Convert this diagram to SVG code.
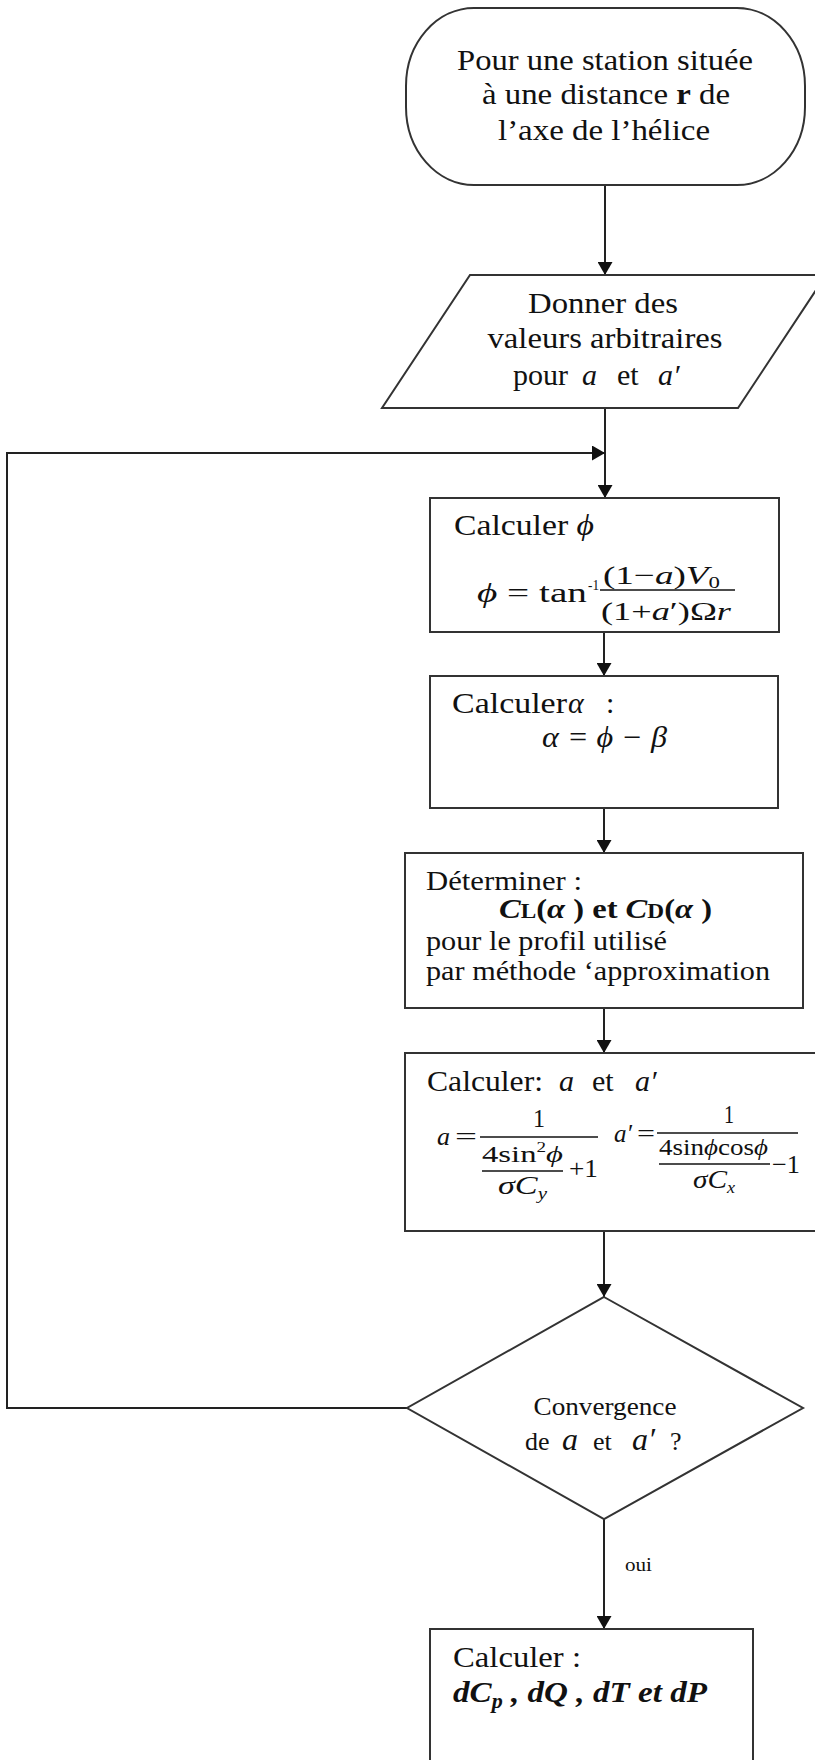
<svg xmlns="http://www.w3.org/2000/svg" width="815" height="1760" viewBox="0 0 815 1760">
<style>
.s{fill:#fff;stroke:#333;stroke-width:2}
.t{font-family:"Liberation Serif","Times New Roman",serif;fill:#111}
.f30{font-size:30px}
.f28{font-size:28px}
.f26{font-size:26px}
.f24{font-size:24px}
.f20{font-size:20px}
.f18{font-size:18px}
.f16{font-size:16px}
.f14{font-size:14px}
.i{font-style:italic}
.b{font-weight:bold}
.m{text-anchor:middle}
.c{fill:none;stroke:#222;stroke-width:2}
.bar{stroke:#111;stroke-width:1.5}
</style>
<defs>
<marker id="ah" markerUnits="userSpaceOnUse" markerWidth="15" markerHeight="15" refX="13" refY="7.5" orient="auto">
<path d="M0,0 L13,7.5 L0,15 z" fill="#111"/>
</marker>
</defs>

<g id="connectors">
<line class="c" x1="605" y1="185" x2="605" y2="275" marker-end="url(#ah)"/>
<line class="c" x1="605" y1="408" x2="605" y2="498" marker-end="url(#ah)"/>
<polyline class="c" points="407,1408 7,1408 7,453 605,453" marker-end="url(#ah)"/>
<line class="c" x1="604" y1="632" x2="604" y2="676" marker-end="url(#ah)"/>
<line class="c" x1="604" y1="808" x2="604" y2="853" marker-end="url(#ah)"/>
<line class="c" x1="604" y1="1008" x2="604" y2="1053" marker-end="url(#ah)"/>
<line class="c" x1="604" y1="1231" x2="604" y2="1297" marker-end="url(#ah)"/>
<line class="c" x1="604" y1="1519" x2="604" y2="1629" marker-end="url(#ah)"/>
<text class="t f18" x="625" y="1571" textLength="27" lengthAdjust="spacingAndGlyphs">oui</text>
</g>

<g id="start">
<rect class="s" x="406" y="8" width="399" height="177" rx="68" ry="78"/>
<text class="t f30 m" x="605" y="70" textLength="296" lengthAdjust="spacingAndGlyphs">Pour une station située</text>
<text class="t f30 m" x="606" y="104" textLength="248" lengthAdjust="spacingAndGlyphs">à une distance <tspan class="b">r</tspan> de</text>
<text class="t f30 m" x="604" y="140" textLength="212" lengthAdjust="spacingAndGlyphs">l’axe de l’hélice</text>
</g>

<g id="input">
<polygon class="s" points="470,275 826,275 738,408 382,408"/>
<text class="t f30 m" x="603" y="313" textLength="150" lengthAdjust="spacingAndGlyphs">Donner des</text>
<text class="t f30 m" x="605" y="348" textLength="235" lengthAdjust="spacingAndGlyphs">valeurs arbitraires</text>
<text class="t f30" y="385"><tspan x="513">pour</tspan><tspan x="582" class="i">a</tspan><tspan x="617">et</tspan><tspan x="658" class="i">a′</tspan></text>
</g>

<g id="calc-phi">
<rect class="s" x="430" y="498" width="349" height="134"/>
<text class="t f30" x="454" y="535" textLength="140" lengthAdjust="spacingAndGlyphs">Calculer <tspan class="i">ϕ</tspan></text>
<text class="t f28" x="477" y="602" textLength="110" lengthAdjust="spacingAndGlyphs"><tspan class="i">ϕ</tspan> = tan</text>
<text class="t f14" x="588" y="590" textLength="11" lengthAdjust="spacingAndGlyphs">-1</text>
<text class="t f26" x="603" y="584" textLength="117" lengthAdjust="spacingAndGlyphs">(1−<tspan class="i">a</tspan>)<tspan class="i">V</tspan><tspan class="f16" dy="4">0</tspan></text>
<line class="bar" x1="600" y1="590" x2="735" y2="590"/>
<text class="t f26" x="601" y="620" textLength="130" lengthAdjust="spacingAndGlyphs">(1+<tspan class="i">a</tspan>′)Ω<tspan class="i">r</tspan></text>
</g>

<g id="calc-alpha">
<rect class="s" x="430" y="676" width="348" height="132"/>
<text class="t f30" y="713"><tspan x="452" textLength="115" lengthAdjust="spacingAndGlyphs">Calculer</tspan><tspan x="568" class="i">α</tspan><tspan x="606">:</tspan></text>
<text class="t f30 i" x="542" y="747" textLength="125" lengthAdjust="spacingAndGlyphs">α = ϕ − β</text>
</g>

<g id="determine">
<rect class="s" x="405" y="853" width="398" height="155"/>
<text class="t f28" x="426" y="890" textLength="156" lengthAdjust="spacingAndGlyphs">Déterminer :</text>
<text class="t f28 b" x="499" y="918" textLength="213" lengthAdjust="spacingAndGlyphs"><tspan class="i">C</tspan><tspan class="f20">L</tspan>(<tspan class="i">α</tspan> ) et <tspan class="i">C</tspan><tspan class="f20">D</tspan>(<tspan class="i">α</tspan> )</text>
<text class="t f28" x="426" y="950" textLength="241" lengthAdjust="spacingAndGlyphs">pour le profil utilisé</text>
<text class="t f28" x="426" y="980" textLength="344" lengthAdjust="spacingAndGlyphs">par méthode ‘approximation</text>
</g>

<g id="calc-a">
<rect class="s" x="405" y="1053" width="420" height="178"/>
<text class="t f30" y="1091"><tspan x="427" textLength="116" lengthAdjust="spacingAndGlyphs">Calculer:</tspan><tspan x="559" class="i">a</tspan><tspan x="592">et</tspan><tspan x="635" class="i">a′</tspan></text>
<text class="t f26 i" x="437" y="1145">a</text>
<text class="t f26" x="455" y="1145" textLength="22" lengthAdjust="spacingAndGlyphs">=</text>
<text class="t f26" x="533" y="1127" textLength="12" lengthAdjust="spacingAndGlyphs">1</text>
<line class="bar" x1="480" y1="1137" x2="598" y2="1137"/>
<text class="t f24" x="482" y="1162" textLength="81" lengthAdjust="spacingAndGlyphs">4sin<tspan class="f14" dy="-10">2</tspan><tspan class="i" dy="10">ϕ</tspan></text>
<line class="bar" x1="482" y1="1171" x2="563" y2="1171"/>
<text class="t f26" x="498" y="1194" textLength="49" lengthAdjust="spacingAndGlyphs"><tspan class="i">σC</tspan><tspan class="i f16" dy="5">y</tspan></text>
<text class="t f26" x="569" y="1177" textLength="29" lengthAdjust="spacingAndGlyphs">+1</text>
<text class="t f26 i" x="614" y="1142" textLength="18" lengthAdjust="spacingAndGlyphs">a′</text>
<text class="t f26" x="637" y="1142" textLength="18" lengthAdjust="spacingAndGlyphs">=</text>
<text class="t f26" x="724" y="1123" textLength="10" lengthAdjust="spacingAndGlyphs">1</text>
<line class="bar" x1="657" y1="1133" x2="798" y2="1133"/>
<text class="t f24" x="659" y="1155" textLength="109" lengthAdjust="spacingAndGlyphs">4sin<tspan class="i">ϕ</tspan>cos<tspan class="i">ϕ</tspan></text>
<line class="bar" x1="659" y1="1164" x2="770" y2="1164"/>
<text class="t f26" x="693" y="1188" textLength="42" lengthAdjust="spacingAndGlyphs"><tspan class="i">σC</tspan><tspan class="i f16" dy="5">x</tspan></text>
<text class="t f26" x="772" y="1173" textLength="28" lengthAdjust="spacingAndGlyphs">−1</text>
</g>

<g id="convergence">
<polygon class="s" points="604,1297 803,1408 604,1519 407,1408"/>
<text class="t f26 m" x="605" y="1415" textLength="143" lengthAdjust="spacingAndGlyphs">Convergence</text>
<text class="t f26" y="1450"><tspan x="525">de</tspan><tspan x="562" class="i" font-size="32">a</tspan><tspan x="593">et</tspan><tspan x="632" class="i" font-size="32">a′</tspan><tspan x="670">?</tspan></text>
</g>

<g id="calc-final">
<rect class="s" x="430" y="1629" width="323" height="160"/>
<text class="t f30" x="453" y="1667" textLength="128" lengthAdjust="spacingAndGlyphs">Calculer :</text>
<text class="t f30 b i" x="453" y="1702" textLength="254" lengthAdjust="spacingAndGlyphs">d<tspan>C</tspan><tspan class="f20" dy="6">p</tspan><tspan dy="-6"> , </tspan>d<tspan>Q</tspan> , d<tspan>T</tspan> et d<tspan>P</tspan></text>
</g>
</svg>
